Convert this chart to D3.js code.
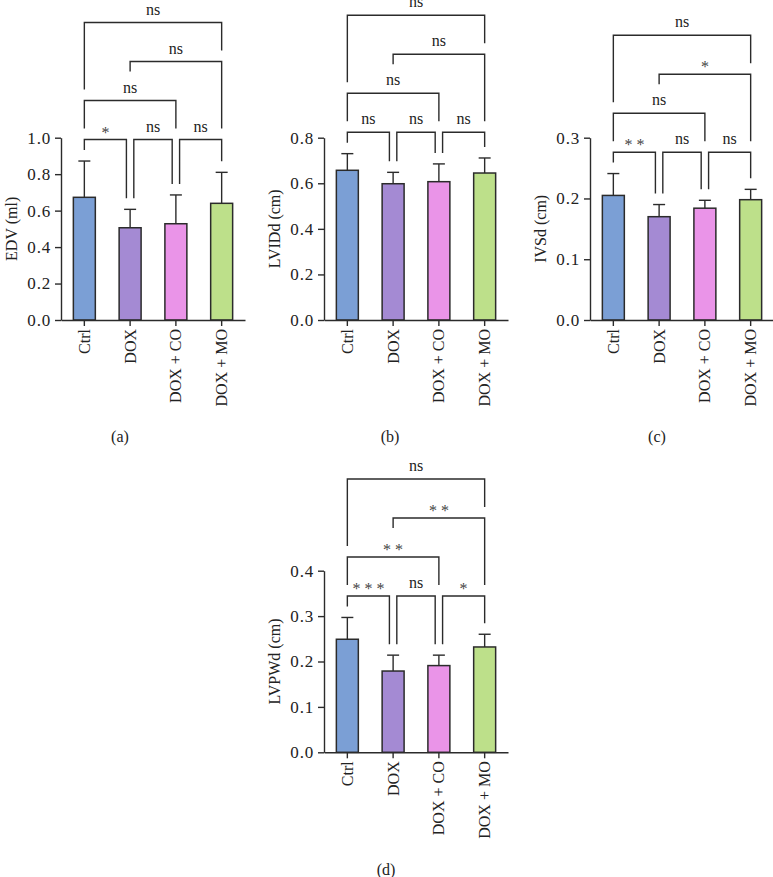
<!DOCTYPE html>
<html>
<head>
<meta charset="utf-8">
<script src="https://cdn.jsdelivr.net/npm/d3@7"></script>
<style>
  body { margin: 0; background: #fff; }
  svg text { font-family: "Liberation Serif", "Times New Roman", serif; fill: #222; }
</style>
</head>
<body>
<div id="chart"></div>
<script>
// groups and values
const groups = ["Ctrl", "DOX", "DOX + CO", "DOX + MO"];

const edvMean = [0.673, 0.506, 0.528, 0.640];
const edvSd = [0.199, 0.101, 0.158, 0.170];
const edvTicks = [0, 0.2, 0.4, 0.6, 0.8, 1.0];
const edvSig = ["*", "ns", "ns", "ns", "ns", "ns"];

const lviddMean = [0.657, 0.598, 0.607, 0.645];
const lviddSd = [0.073, 0.050, 0.078, 0.066];
const lviddTicks = [0, 0.2, 0.4, 0.6, 0.8];
const lviddSig = ["ns", "ns", "ns", "ns", "ns", "ns"];

const ivsdMean = [0.205, 0.170, 0.184, 0.198];
const ivsdSd = [0.036, 0.020, 0.013, 0.017];
const ivsdTicks = [0, 0.1, 0.2, 0.3];
const ivsdSig = ["**", "ns", "ns", "ns", "*", "ns"];

const lvpwdMean = [0.249, 0.179, 0.191, 0.232];
const lvpwdSd = [0.048, 0.035, 0.023, 0.028];
const lvpwdTicks = [0, 0.1, 0.2, 0.3, 0.4];
const lvpwdSig = ["***", "ns", "*", "**", "**", "ns"];

// comparisons, bottom row first, then stacked upward
const pairs = [[0, 1], [1, 2], [2, 3], [0, 2], [1, 3], [0, 3]];
const pairLevel = [1, 1, 1, 2, 3, 4];

const colors = ["#7b9fd5", "#a48ad3", "#ea94e8", "#bde08a"];

const W = 773, H = 877;
const svg = d3.select("#chart").append("svg")
    .attr("width", W)
    .attr("height", H);

svg.append("rect").attr("width", W).attr("height", H).attr("fill", "#fff");

// panel layout (pixels)
const panels = [
    { mean: edvMean, sd: edvSd, ticks: edvTicks, sig: edvSig, yLabel: "EDV (ml)", tag: "(a)",
      x0: 61, yBottom: 320, yTop: 137.7, level1: 139.5, tagX: 120, tagY: 437 },
    { mean: lviddMean, sd: lviddSd, ticks: lviddTicks, sig: lviddSig, yLabel: "LVIDd (cm)", tag: "(b)",
      x0: 324, yBottom: 320, yTop: 137.7, level1: 132.3, tagX: 390, tagY: 437 },
    { mean: ivsdMean, sd: ivsdSd, ticks: ivsdTicks, sig: ivsdSig, yLabel: "IVSd (cm)", tag: "(c)",
      x0: 590, yBottom: 320, yTop: 137.7, level1: 152.3, tagX: 657, tagY: 437 },
    { mean: lvpwdMean, sd: lvpwdSd, ticks: lvpwdTicks, sig: lvpwdSig, yLabel: "LVPWd (cm)", tag: "(d)",
      x0: 324, yBottom: 752.3, yTop: 570.7, level1: 596, tagX: 386, tagY: 870 }
];

const axisW = 184;
const levelGap = 39;
const ink = "#2b2b2b";

panels.forEach(p => {
    const g = svg.append("g");

    const x = d3.scaleBand()
        .domain(groups)
        .range([p.x0, p.x0 + axisW])
        .paddingInner(0.52)
        .paddingOuter(0.27);
    const cx = i => x(groups[i]) + x.bandwidth() / 2;

    const y = d3.scaleLinear()
        .domain([0, d3.max(p.ticks)])
        .range([p.yBottom, p.yTop]);

    // Y axis
    const yAxis = g.append("g")
        .attr("transform", `translate(${p.x0},0)`)
        .call(d3.axisLeft(y).tickValues(p.ticks).tickFormat(d3.format(".1f")).tickSize(6).tickSizeOuter(0).tickPadding(4));
    yAxis.selectAll("path, line").style("stroke", ink).style("stroke-width", 1.4);
    yAxis.selectAll("text").style("font-size", "17px").style("letter-spacing", "0.8px")
        .style("font-family", "'Liberation Serif', serif").style("fill", "#222");

    // bars
    g.selectAll("rect.bar")
        .data(p.mean)
        .join("rect")
        .attr("class", "bar")
        .attr("x", (d, i) => x(groups[i]))
        .attr("y", d => y(d))
        .attr("width", x.bandwidth())
        .attr("height", d => y(0) - y(d))
        .attr("fill", (d, i) => colors[i])
        .attr("stroke", ink)
        .attr("stroke-width", 1.5);

    // error bars (upper only)
    p.mean.forEach((m, i) => {
        const top = y(m + p.sd[i]);
        g.append("line")
            .attr("x1", cx(i)).attr("x2", cx(i))
            .attr("y1", y(m)).attr("y2", top)
            .attr("stroke", ink).attr("stroke-width", 1.4);
        g.append("line")
            .attr("x1", cx(i) - 6).attr("x2", cx(i) + 6)
            .attr("y1", top).attr("y2", top)
            .attr("stroke", ink).attr("stroke-width", 1.4);
    });

    // X axis
    const xAxis = g.append("g")
        .attr("transform", `translate(0,${p.yBottom})`)
        .call(d3.axisBottom(x).tickSize(6).tickSizeOuter(0).tickFormat(""));
    xAxis.selectAll("path, line").style("stroke", ink).style("stroke-width", 1.4);

    groups.forEach((name, i) => {
        g.append("text")
            .attr("transform", `translate(${cx(i)},${p.yBottom + 9}) rotate(-90)`)
            .attr("text-anchor", "end")
            .attr("y", 5.5)
            .style("font-size", "16px")
            .text(name);
    });

    // Y label
    g.append("text")
        .attr("transform", `translate(${p.x0 - 44},${(p.yTop + p.yBottom) / 2}) rotate(-90)`)
        .attr("text-anchor", "middle")
        .style("font-size", "16px")
        .text(p.yLabel);

    // panel tag
    g.append("text")
        .attr("x", p.tagX)
        .attr("y", p.tagY + 5)
        .attr("text-anchor", "middle")
        .style("font-size", "16px")
        .text(p.tag);

    // significance brackets
    const errTop = i => y(p.mean[i] + p.sd[i]);
    const levelY = lv => p.level1 - (lv - 1) * levelGap;
    const shift = 3.7;

    const brackets = pairs.map((pr, k) => {
        const [i, j] = pr;
        const lv = pairLevel[k];
        let xi = cx(i), xj = cx(j);
        if (lv === 1) {
            if (pairs.some((q, m) => pairLevel[m] === 1 && q[1] === i)) xi += shift;
            if (pairs.some((q, m) => pairLevel[m] === 1 && q[0] === j)) xj -= shift;
        }
        return { i, j, lv, xi, xj, ly: levelY(lv), mid: (xi + xj) / 2, label: p.sig[k] };
    });

    const legEnd = (b, bar) => {
        if (b.lv === 1) return errTop(bar) - 11;
        const lower = brackets.filter(o => o.lv < b.lv);
        if (lower.some(o => Math.abs(o.mid - cx(bar)) < 8)) return b.ly + 10;
        const cover = lower.filter(o => o.i <= bar && o.j >= bar);
        if (cover.length) return d3.min(cover, o => o.ly) - 11;
        return errTop(bar) - 11;
    };

    brackets.forEach(b => {
        const path = d3.path();
        path.moveTo(b.xi, legEnd(b, b.i));
        path.lineTo(b.xi, b.ly);
        path.lineTo(b.xj, b.ly);
        path.lineTo(b.xj, legEnd(b, b.j));
        g.append("path")
            .attr("d", path.toString())
            .attr("fill", "none")
            .attr("stroke", ink)
            .attr("stroke-width", 1.4);

        const isStar = b.label !== "ns";
        g.append("text")
            .attr("x", b.mid)
            .attr("y", isStar ? b.ly - 2 : b.ly - 8)
            .attr("text-anchor", "middle")
            .style("font-size", isStar ? "16px" : "16px")
            .style("fill", isStar ? "#444" : "#222")
            .text(isStar ? b.label.split("").join(" ") : b.label);
    });
});
</script>
</body>
</html>
